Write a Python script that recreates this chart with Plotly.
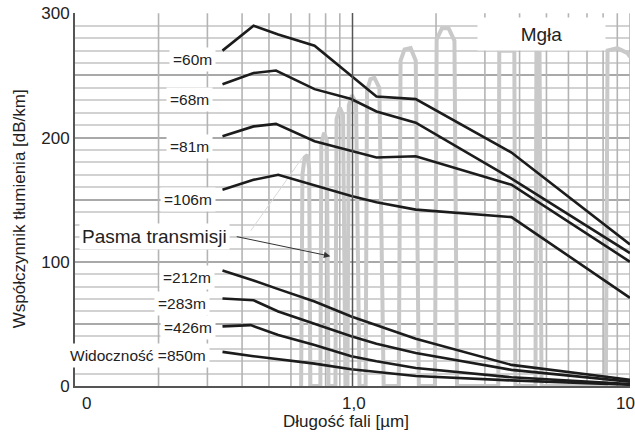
import numpy as np
import plotly.graph_objects as go

# ---------------- data ----------------
# attenuation curves for fog, by visibility (wavelength in µm, attenuation in dB/km)
wl_60 = [0.34, 0.44, 0.54, 0.73, 1.22, 1.69, 3.74, 10]
a_60 = [270, 290, 283, 274, 233, 231, 188, 114]

wl_68 = [0.34, 0.44, 0.53, 0.73, 0.99, 1.22, 1.69, 3.74, 10]
a_68 = [243, 252, 254, 239, 231, 221, 212, 167, 107]

wl_81 = [0.34, 0.44, 0.53, 0.73, 1.22, 1.69, 3.74, 10]
a_81 = [201, 209, 211, 197, 184, 185, 162, 100]

wl_106 = [0.34, 0.44, 0.54, 0.99, 1.22, 1.69, 3.74, 10]
a_106 = [158, 166, 170, 153, 148, 142, 136, 71]

wl_212 = [0.34, 0.44, 0.54, 0.73, 0.99, 1.69, 3.74, 10]
a_212 = [93, 85, 78, 68, 56, 38, 17, 5]

wl_283 = [0.34, 0.44, 0.54, 0.73, 0.99, 1.22, 1.69, 3.74, 10]
a_283 = [70.5, 69, 60, 50, 40, 34, 26.5, 13, 3.5]

wl_426 = [0.34, 0.43, 0.54, 0.73, 0.99, 1.22, 1.69, 3.74, 10]
a_426 = [48, 49, 41, 33, 24, 20, 14.5, 7, 1.5]

wl_850 = [0.34, 0.44, 0.73, 0.99, 1.69, 3.74, 10]
a_850 = [27.5, 24, 18, 13.5, 8, 4.5, 1]

curve_labels = ["=60m", "=68m", "=81m", "=106m", "=212m", "=283m", "=426m",
                "Widoczność =850m"]
label_x = [0.3215, 0.3135, 0.3135, 0.3215, 0.319, 0.306, 0.3215, 0.306]
label_y = [263, 231, 193, 150.4, 87.7, 66.8, 46.7, 24.9]

# atmospheric transmission windows (grey background spectrum, scaled)
spec_x = [0.653, 0.660, 0.672, 0.688, 0.698, 0.705,
          0.766, 0.772, 0.790, 0.808, 0.819,
          0.868, 0.876, 0.900, 0.925, 0.943,
          0.959, 0.970, 0.995, 1.030, 1.060,
          1.115, 1.128, 1.160, 1.200, 1.250, 1.295,
          1.468, 1.490, 1.540, 1.620, 1.690, 1.734,
          1.982, 2.010, 2.100, 2.220, 2.330, 2.381,
          3.353, 3.380, 3.600, 3.830, 3.864,
          4.564, 4.600, 4.720, 4.800,
          8.185, 8.300, 9.000, 9.800, 10.0]
spec_y = [0, 170, 184, 186, 175, 0,
          0, 195, 204, 198, 0,
          0, 215, 224, 218, 0,
          0, 226, 234, 228, 0,
          0, 238, 247, 248, 240, 0,
          0, 262, 271, 272, 262, 0,
          0, 279, 288, 288, 278, 0,
          0, 270, 270, 270, 0,
          0, 270, 270, 0,
          0, 270, 272, 268, 265]
faint_x = [0.43, 0.66]
faint_y = [125, 184]

# vertical grid positions (log-scale minor divisions) and axis labels
x_grid = [0.2, 0.3, 0.4, 0.5, 0.6, 0.7, 0.8, 0.9,
          2, 3, 4, 5, 6, 7, 8, 9, 10]
x_tick_text = ["0", "1,0", "10"]
x_tick_pos = [0.1104, 1.012, 9.6]

Y_MAX = 300
FONT = "Liberation Sans, Arial, sans-serif"
INK = "#1c1c1c"

fig = go.Figure()

# vertical grid lines of the log axis
gx, gy = [], []
for v in x_grid:
    gx += [v, v, None]
    gy += [0, Y_MAX, None]
fig.add_trace(go.Scatter(x=gx, y=gy, mode="lines", hoverinfo="skip",
                         line=dict(color="#b4b4b4", width=1.6)))

fig.add_trace(go.Scatter(x=faint_x, y=faint_y, mode="lines",
                         line=dict(color="#d9d9d9", width=1), hoverinfo="skip"))
fig.add_trace(go.Scatter(x=spec_x, y=spec_y, mode="lines",
                         line=dict(color="#c9c9c9", width=4), hoverinfo="skip"))

for wl, a in [(wl_60, a_60), (wl_68, a_68), (wl_81, a_81), (wl_106, a_106),
              (wl_212, a_212), (wl_283, a_283), (wl_426, a_426), (wl_850, a_850)]:
    fig.add_trace(go.Scatter(x=wl, y=a, mode="lines",
                             line=dict(color=INK, width=2.6)))

shapes = [dict(type="line", xref="x", yref="paper", x0=1, x1=1, y0=0, y1=1,
               line=dict(color="#555555", width=1.5), layer="above")]

annotations = []
for t, lx, ly in zip(curve_labels, label_x, label_y):
    annotations.append(dict(x=np.log10(lx), y=ly, xref="x", yref="y", text=t,
                            showarrow=False, xanchor="right", yanchor="middle",
                            font=dict(family=FONT, size=15.5, color="#222"),
                            bgcolor="white", borderpad=3))

# "Pasma transmisji" label with arrow
annotations.append(dict(x=np.log10(0.1034), y=120, xref="x", yref="y",
                        text="Pasma transmisji", showarrow=False,
                        xanchor="left", yanchor="middle",
                        font=dict(family=FONT, size=19, color="#222"),
                        bgcolor="white", borderpad=2))
annotations.append(dict(x=np.log10(0.832), y=104.5, xref="x", yref="y",
                        ax=np.log10(0.378), ay=120.5, axref="x", ayref="y",
                        text="", showarrow=True, arrowhead=2, arrowsize=1.3,
                        arrowwidth=1, arrowcolor="#333"))
# Mgła box
annotations.append(dict(x=0.681, y=283, xref="x", yref="y", text="Mgła",
                        showarrow=False, width=125, height=30,
                        font=dict(family=FONT, size=19, color="#222"),
                        bgcolor="white"))
# x tick labels (paper y, below the axis)
for t, p in zip(x_tick_text, x_tick_pos):
    annotations.append(dict(x=np.log10(p), y=-0.046, xref="x", yref="paper",
                            text=t, showarrow=False, xanchor="center",
                            yanchor="middle",
                            font=dict(family=FONT, size=17, color="#222")))
# axis titles
annotations.append(dict(x=0.488, y=-0.094, xref="paper", yref="paper",
                        text="Długość fali [µm]", showarrow=False,
                        xanchor="center", yanchor="middle",
                        font=dict(family=FONT, size=17, color="#222")))
annotations.append(dict(x=-0.1, y=0.475, xref="paper", yref="paper",
                        text="Współczynnik tłumienia [dB/km]", showarrow=False,
                        textangle=-90, xanchor="center", yanchor="middle",
                        font=dict(family=FONT, size=17, color="#222")))

fig.update_layout(
    width=635, height=432,
    margin=dict(l=75, r=5, t=13, b=46),
    plot_bgcolor="white", paper_bgcolor="white",
    showlegend=False,
    annotations=annotations,
    shapes=shapes,
    font=dict(family=FONT, color="#222"),
    xaxis=dict(type="log", range=[-1, 1], showticklabels=False,
               showgrid=False, showline=True, linecolor="#555555",
               linewidth=2, ticks="", zeroline=False, automargin=False),
    yaxis=dict(range=[0, Y_MAX + 0.3], tickmode="linear", tick0=0, dtick=50,
               ticklabelstep=2,
               showgrid=True, gridcolor="#a9a9a9", gridwidth=1.5,
               minor=dict(dtick=10, showgrid=True, gridcolor="#d2d2d2",
                          gridwidth=1.5),
               showline=True, linecolor="#555555", linewidth=2, ticks="",
               zeroline=False, automargin=False,
               tickfont=dict(family=FONT, size=17, color="#222")),
)

# remove the page's default body margin so the figure fills the window exactly
fig.write_html("out.html", config={"displayModeBar": False},
               post_script="document.body.style.margin='0';"
                           "document.body.style.overflow='hidden';")
